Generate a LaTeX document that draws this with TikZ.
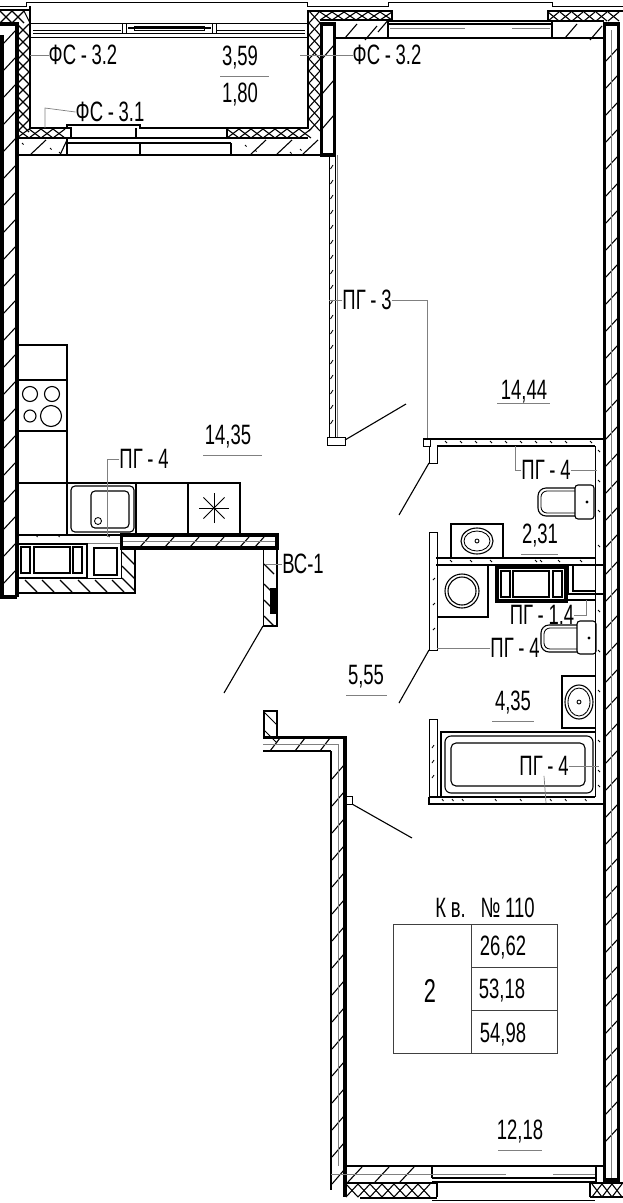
\documentclass[tikz,border=0pt]{standalone}
\usepackage{fontspec}
\setmainfont[FakeStretch=0.66]{Liberation Sans}

\tikzset{
  wall/.style={line width=3.2pt},
  solid1/.style={line width=1.1pt},
  fine/.style={line width=.85pt},
  leader/.style={line width=.7pt,black!50},
  lab/.style={font=\fontsize{28}{28}\selectfont,inner sep=0pt},
  biglab/.style={font=\fontsize{33}{33}\selectfont,inner sep=0pt},
  cell/.style={line width=.9pt,black!75}
}

\begin{document}
\begin{tikzpicture}[x=1pt,y=-1pt]
   \useasboundingbox (0,0) rectangle (623,1203);
   \fill[white] (0,0) rectangle (623,1203);

   % outer walls
   \foreach \y in {30,57,...,570}
      \draw[solid1] (3,\y+14) -- (16,\y);
   \foreach \y in {48,75,...,1150}
      \draw[solid1] (605,\y+14) -- (618,\y);
   \foreach \y in {765,792,...,1170}
      \draw[solid1] (332,\y+14) -- (344,\y);
   \draw[wall] (0,24) -- (17,24) -- (17,597);
   \draw[wall] (2,35) -- (2,597) -- (17,597);
   \draw[wall] (604.5,24) -- (618.5,24) -- (618.5,1180) -- (604.5,1180) -- cycle;
   \draw[black!50,fine] (611,30) -- (611,1178);

   % balcony insulation
   \foreach \y in {24,36,...,120} {
      \draw[solid1] (17,\y) -- (29,\y+12);
      \draw[solid1] (29,\y) -- (17,\y+12);
   }
   \foreach \y in {11,23,...,125} {
      \draw[solid1] (309,\y) -- (320,\y+12);
      \draw[solid1] (320,\y) -- (309,\y+12);
   }
   \foreach \x in {0,12} {
      \draw[solid1] (\x,11) -- (\x+12,23);
      \draw[solid1] (\x+12,11) -- (\x,23);
   }
   \draw[solid1] (24,11) -- (30,23);
   \foreach \x in {17,29,41,53} {
      \draw[solid1] (\x,129) -- (\x+12,138);
      \draw[solid1] (\x+12,129) -- (\x,138);
   }
   \foreach \x in {227,239,...,299} {
      \draw[solid1] (\x,129) -- (\x+12,138);
      \draw[solid1] (\x+12,129) -- (\x,138);
   }
   \foreach \x in {320,332,...,380} {
      \draw[solid1] (\x,12) -- (\x+12,20);
      \draw[solid1] (\x+12,12) -- (\x,20);
   }
   \foreach \x in {548,560,...,612} {
      \draw[solid1] (\x,12) -- (\x+11,21);
      \draw[solid1] (\x+11,12) -- (\x,21);
   }
   \draw[solid1] (30,6) -- (30,128) -- (71,128) -- (71,138);
   \draw[solid1] (308,10) -- (308,128) -- (227,128) -- (227,138);
   \draw[solid1] (0,10) -- (30,10);
   \draw[solid1] (308,11) -- (392,11) -- (392,20) -- (320,20);
   \draw[solid1] (548,20) -- (548,11) -- (623,11);
   \draw[solid1] (548,21) -- (604,21);
   \draw[fine] (0,6) -- (26,6) -- (26,2) -- (307,2) -- (307,6) -- (388,6) -- (388,2) -- (552,2) -- (552,6) -- (623,6);

   % balcony windows and door
   \draw[solid1] (30,23.5) -- (308,23.5);
   \draw[solid1] (30,37.5) -- (308,37.5);
   \draw[line width=1.6pt] (33,30.5) -- (121,30.5);
   \draw[line width=1.6pt] (128,28) -- (211,28);
   \draw[line width=1.6pt] (217,30.5) -- (305,30.5);
   \draw[fine] (33,33) -- (305,33);
   \draw[fine] (122,23.5) rectangle (126,33);
   \draw[fine] (212,23.5) rectangle (216,33);
   \draw[fine] (134,26) rectangle (204,30);
   \draw[solid1] (67,155) -- (67,138) -- (71,138);
   \draw[solid1] (67,128) -- (67,125) -- (140,125) -- (140,128) -- (227,128);
   \draw[solid1] (136,128) -- (136,138);
   \draw[solid1] (17,138) -- (308,138);
   \draw[solid1] (67,143) -- (231,143);
   \draw[solid1] (140,143) -- (140,155);
   \draw[solid1] (231,143) -- (231,155);
   \draw[solid1] (17,155) -- (321,155);
   \foreach \x/\w in {30/16,60/7,250/16,276/16,302/16}
      \draw[solid1] (\x,155) -- +(\w,-15);
   \foreach \x/\y in {22/143,50/148,59/152,245/145,255/150,290/152,300/149}
      \draw[fine] (\x,\y) -- +(1.5,1.5);

   % party wall at the balcony and partition below
   \foreach \y in {45,80,115}
      \draw[solid1] (322,\y+14) -- (334,\y);
   \draw[wall] (321.5,24) rectangle (334.5,155);
   \draw[fine] (329,155) -- (329,437);
   \draw[fine] (335,155) -- (335,437);
   \draw[leader] (337,155) -- (337,437);
   \foreach \y in {165,180,...,430}
      \draw[fine] (330.5,\y+4) -- (333,\y);
   \draw[fine] (327,437) rectangle (345,445);

   % top right window
   \foreach \x/\y in {345/30,365/32,378/24,565/30,590/32}
      \draw[solid1] (\x,\y+8) -- +(12,-14);
   \draw[solid1] (335,38) -- (604,38);
   \draw[solid1] (388,20) -- (388,38);
   \draw[solid1] (552,20) -- (552,38);
   \draw[solid1] (388,21) -- (552,21);
   \draw[solid1] (388,24) -- (552,24);
   \draw[leader] (390,28) -- (465,28);
   \draw[leader] (512,28) -- (550,28);

   % lower left walls
   \foreach \x in {270,295,320}
      \draw[solid1] (\x,751) -- +(10,-13);
   \foreach \y in {712,730}
      \draw[fine] (264,\y) -- +(13,13);
   \draw[wall] (263,737.5) -- (345,737.5) -- (345,1197);
   \draw[line width=2.4pt] (263,751) -- (331,751);
   \draw[line width=2pt] (331,751) -- (331,1166);
   \draw[line width=1.6pt] (331,1166) -- (331,1190);
   \draw[solid1] (264,711) rectangle (277,737);
   \draw[leader] (263,744) -- (338,744) -- (338,1166);
   \draw[fine] (345,796) rectangle (352,804);
   \coordinate (doorC) at (352,804);
   \coordinate (doorCend) at (412,838);
   \draw[solid1] (doorC) -- (doorCend);

   % bottom window
   \foreach \x in {346,358,...,425} {
      \draw[solid1] (\x,1184) -- (\x+12,1197);
      \draw[solid1] (\x+12,1184) -- (\x,1197);
   }
   \foreach \x in {592,602,612} {
      \draw[solid1] (\x,1184) -- (\x+10,1197);
      \draw[solid1] (\x+10,1184) -- (\x,1197);
   }
   \foreach \x in {348,375,400}
      \draw[solid1] (\x,1182) -- +(14,-15);
   \draw[solid1] (345,1166) -- (604,1166);
   \draw[solid1] (345,1183) -- (437,1183) -- (437,1197);
   \draw[line width=1.6pt] (360,1198) -- (437,1198);
   \draw[solid1] (432,1166) -- (432,1178);
   \draw[solid1] (432,1178) -- (596,1178);
   \draw[solid1] (432,1182) -- (596,1182);
   \draw[solid1] (596,1166) -- (596,1182);
   \draw[solid1] (590,1197) -- (590,1183) -- (623,1183);
   \draw[solid1] (590,1197) -- (623,1197);
   \draw[fine] (432,1200) -- (595,1200);
   \draw[leader] (331,1174) -- (506,1174);
   \draw[leader] (553,1174) -- (595,1174);

   % kitchen units
   \draw[solid1] (17,345) -- (67,345) -- (67,483);
   \draw[solid1] (17,380) -- (67,380);
   \draw[solid1] (17,431) -- (67,431);
   \draw[solid1] (17,483) -- (240,483) -- (240,534);
   \draw[solid1] (67,483) -- (67,534);
   \draw[solid1] (136,483) -- (136,534);
   \draw[solid1] (188,483) -- (188,534);
   \draw[solid1] (30,394) circle[radius=7.5];
   \draw[solid1] (52,394) circle[radius=7.5];
   \draw[solid1] (30,416) circle[radius=6];
   \draw[solid1] (51,416) circle[radius=10.5];
   \draw[solid1,rounded corners=4pt] (71,486) rectangle (134,532);
   \draw[solid1,rounded corners=4pt] (91,491) rectangle (129,528);
   \draw[fine] (98,521) circle[radius=3.5];
   \foreach \a in {0,45,...,135}
      \draw[fine] (214,508) ++(\a:15) -- ++(\a+180:30);

   % kitchen shaft
   \draw[solid1] (17,535) -- (121,535);
   \draw[leader] (17,543) -- (121,543);
   \draw[line width=1.4pt] (18,544) rectangle (87,578);
   \draw[solid1] (21,547) rectangle (30,573);
   \draw[solid1] (34,547) rectangle (70,573);
   \draw[solid1] (73,547) rectangle (82,573);
   \draw[solid1] (94,548) rectangle (117,575);
   \draw[fine] (88,578) -- (121,578) -- (121,549);
   \foreach \x in {25,42,60,78,95,112}
      \draw[solid1] (\x,580) -- +(12,12);
   \foreach \y in {552,566,578}
      \draw[solid1] (122,\y) -- +(13,13);
   \draw[solid1] (17,593) -- (135,593) -- (135,549);
   \foreach \x in {36,58,108}
      \draw[fine] (\x,535) -- +(1.5,2);

   % kitchen wall and stub
   \foreach \x in {140,165,190,215,240,255}
      \draw[solid1] (\x,547) -- +(9,-10);
   \draw[leader] (122,541) -- (276,541);
   \draw[wall] (121.5,535) rectangle (277,548);
   \draw[solid1] (277,548) -- (277,626) -- (263.5,626) -- (263.5,548);
   \foreach \y in {564,584,600,616}
      \draw[solid1] (264,\y) -- +(10,10);
   \fill (270,588) rectangle (277,614);
   \coordinate (doorA) at (263,626);
   \coordinate (doorAend) at (224,693);
   \draw[solid1] (doorA) -- (doorAend);

   % bathrooms, partitions
   \draw[solid1] (423,439) -- (604,439);
   \draw[solid1] (437,446) -- (595,446);
   \draw[fine] (595,446) -- (595,797);
   \draw[fine] (423,439) rectangle (430,446);
   \draw[fine] (429,446) -- (429,463) -- (437,463) -- (437,446);
   \foreach \x in {445,460,475,490,505,520,535,550,565,590}
      \draw[fine] (\x,441) -- +(2,2);
   \coordinate (doorB) at (429,463);
   \coordinate (doorBend) at (399,515);
   \draw[solid1] (doorB) -- (doorBend);
   \draw[solid1] (436,558) -- (595,558);
   \draw[solid1] (436,565) -- (604,565);
   \draw[fine] (429,650) -- (429,532) -- (437,532) -- (437,650) -- cycle;
   \foreach \y in {580,605,630}
      \draw[fine] (433,\y) -- +(2,-2);
   \coordinate (doorD) at (429,650);
   \coordinate (doorDend) at (399,703);
   \draw[solid1] (doorD) -- (doorDend);
   \foreach \x in {450,470,490,535,540,558,580}
      \draw[fine] (\x,560) -- +(2,2);
   \foreach \y in {450,480,510,545,610,650,690,740,770,785}
      \draw[fine] (598,\y) -- +(2,2);

   % toilet upper
   \draw[solid1,rounded corners=3pt] (575,485) rectangle (594,519);
   \draw[solid1,rounded corners=8pt] (575,488) -- (538,488) -- (538,516) -- (575,516);
   \draw[fine,rounded corners=6pt] (575,491) -- (541,491) -- (541,513) -- (575,513);
   \fill (587,502) circle[radius=1.6];

   % sink upper
   \draw[solid1] (451,558) -- (451,524) -- (503,524) -- (503,558);
   \draw[solid1] (477,541) ellipse[x radius=16,y radius=13];
   \draw[fine] (477,541) ellipse[x radius=13,y radius=10];
   \draw[fine] (477,541) circle[radius=2];

   % washer
   \draw[solid1] (437,617) -- (488,617) -- (488,565);
   \draw[solid1] (462,591) circle[radius=17];
   \draw[solid1] (462,591) circle[radius=14];

   % bathroom shaft
   \draw[solid1] (496,566) rectangle (567,602);
   \draw[solid1] (498,568) rectangle (565,600);
   \draw[solid1] (501,571) rectangle (510,597);
   \draw[solid1] (513,571) rectangle (549,597);
   \draw[solid1] (553,571) rectangle (562,597);
   \draw[solid1] (568,565) -- (568,594) -- (604,594);
   \draw[solid1] (573,565) -- (573,591) -- (595,591);
   \draw[solid1] (567,600) -- (595,600);

   % toilet lower
   \draw[solid1,rounded corners=3pt] (577,621) rectangle (596,654);
   \draw[solid1,rounded corners=8pt] (577,625) -- (541,625) -- (541,652) -- (577,652);
   \draw[fine,rounded corners=6pt] (577,628) -- (544,628) -- (544,649) -- (577,649);
   \fill (589,638) circle[radius=1.6];

   % sink lower
   \draw[solid1] (595,676) -- (562,676) -- (562,728) -- (595,728);
   \draw[solid1] (579,702) ellipse[x radius=14,y radius=17];
   \draw[fine] (579,702) ellipse[x radius=11,y radius=14];
   \draw[fine] (579,702) circle[radius=2];

   % bath
   \draw[fine] (429,719) rectangle (437,797);
   \draw[solid1] (429,797) -- (429,804) -- (604,804);
   \draw[solid1] (429,797) -- (595,797);
   \draw[solid1] (441,797) -- (441,732) -- (595,732);
   \draw[solid1,rounded corners=6pt] (445,736) rectangle (593,793);
   \draw[solid1,rounded corners=5pt] (451,743) rectangle (585,786);
   \foreach \y in {745,760,775}
      \draw[fine] (432,\y+3) -- +(2,-3);
   \foreach \x in {442,452,462,495,520,550,565,585}
      \draw[fine] (\x,799) -- +(1.5,2);

   % door ends of the upper room
   \coordinate (doorE) at (345,440);
   \coordinate (doorEend) at (406,404);
   \draw[solid1] (doorE) -- (doorEend);

   % areas
   \node[lab] (balcA) at (240,58) {3,59};
   \node[lab] (balcB) at (240,95) {1,80};
   \draw[leader] (220,76) -- (269,76);
   \node[lab] (kitchen) at (228,437) {14,35};
   \draw[leader] (203,455) -- (262,455);
   \node[lab] (room) at (524,392) {14,44};
   \draw[leader] (497,403) -- (550,403);
   \node[lab] (wc) at (540,536) {2,31};
   \draw[leader] (521,554) -- (558,554);
   \node[lab] (hall) at (366,677) {5,55};
   \draw[leader] (346,695) -- (387,695);
   \node[lab] (bath) at (513,703) {4,35};
   \draw[leader] (492,721) -- (534,721);
   \node[lab] (bedroom) at (520,1132) {12,18};
   \draw[leader] (498,1150) -- (542,1150);

   % marks
   \node[lab] (fsA) at (83,55) {ФС\,-\,3.2};
   \coordinate (fsAend) at (30,55);
   \draw[leader] (fsA.west) -- (fsAend);
   \node[lab] (fsB) at (387,55) {ФС\,-\,3.2};
   \coordinate (fsBend) at (300,55);
   \draw[leader] (fsB.west) -- (fsBend);
   \node[lab] (fsC) at (110,112) {ФС\,-\,3.1};
   \draw[leader] (fsC.west) -- (45,108) -- (45,128);
   \node[lab] (pgA) at (367,300) {ПГ\,-\,3};
   \coordinate (pgAend) at (329,300);
   \coordinate (pgAdown) at (427,438);
   \draw[leader] (pgA.west) -- (pgAend);
   \draw[leader] (pgA.east) -- (427,300) -- (pgAdown);
   \node[lab] (pgB) at (144,459) {ПГ\,-\,4};
   \coordinate (pgBend) at (107,537);
   \draw[leader] (pgB.west) -- (107,459) -- (pgBend);
   \node[lab] (pgC) at (546,470) {ПГ\,-\,4};
   \coordinate (pgCup) at (515,446);
   \coordinate (pgCend) at (597,470);
   \draw[leader] (pgC.west) -- (515,470) -- (pgCup);
   \draw[leader] (pgC.east) -- (pgCend);
   \node[lab] (pgD) at (542,615) {ПГ\,-\,1.4};
   \coordinate (pgDend) at (586,600);
   \draw[leader] (pgD.east) -- (586,615) -- (pgDend);
   \node[lab] (pgE) at (515,648) {ПГ\,-\,4};
   \coordinate (pgEend) at (437,648);
   \draw[leader] (pgE.west) -- (pgEend);
   \node[lab] (pgF) at (544,766) {ПГ\,-\,4};
   \coordinate (pgFend) at (599,766);
   \coordinate (pgFdown) at (546,803);
   \draw[leader] (pgF.east) -- (pgFend);
   \draw[leader] (pgF.south) -- (pgFdown);
   \node[lab] (vent) at (303,564) {ВС-1};
   \coordinate (ventend) at (265,564);
   \draw[leader] (vent.west) -- (ventend);

   % flat table
   \node[lab] (flat) at (485,908) {К\,в.\hspace{15pt}№\,110};
   \draw[cell] (393,924) rectangle (557,1053);
   \draw[cell] (471,924) -- (471,1053);
   \draw[cell] (471,967) -- (557,967);
   \draw[cell] (471,1010) -- (557,1010);
   \node[biglab] (rooms) at (430,991) {2};
   \node[lab] (areaA) at (503,948) {26,62};
   \node[lab] (areaB) at (502,991) {53,18};
   \node[lab] (areaC) at (503,1035) {54,98};
\end{tikzpicture}
\end{document}
